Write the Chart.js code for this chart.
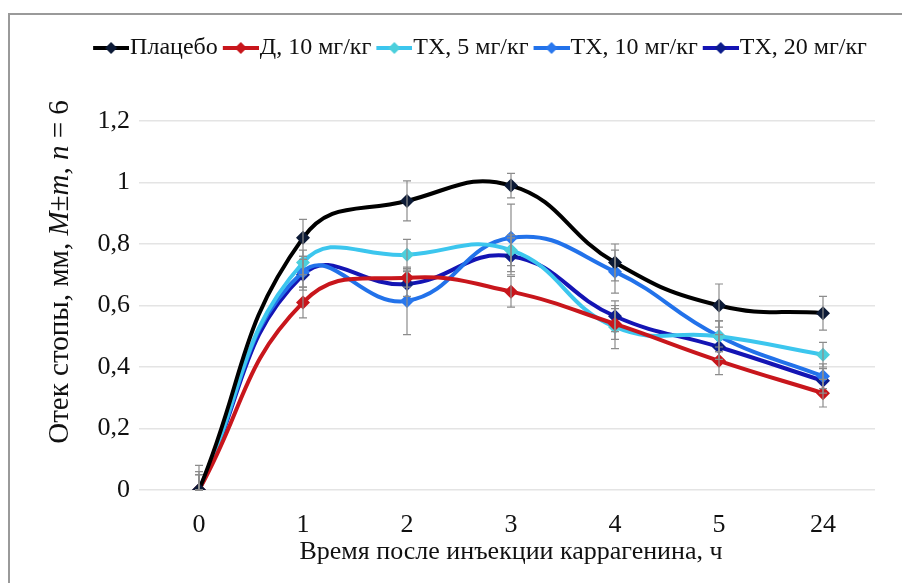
<!DOCTYPE html>
<html>
<head>
<meta charset="utf-8">
<script src="https://cdn.jsdelivr.net/npm/chart.js@4.4.1/dist/chart.umd.min.js"></script>
<style>
  html, body { margin: 0; padding: 0; background: #fff; }
  #wrap { position: absolute; left: 0; top: 0; width: 902px; height: 583px; }
</style>
</head>
<body>
<div id="wrap"><canvas id="chart" width="902" height="583"></canvas></div>
<script>
// Data
const hours = ['0', '1', '2', '3', '4', '5', '24'];
const yTicks = [0, 0.2, 0.4, 0.6, 0.8, 1, 1.2];

const placebo = [0, 0.82, 0.94, 0.99, 0.74, 0.60, 0.575];
const d10 = [0, 0.61, 0.69, 0.645, 0.54, 0.42, 0.315];
const tx5 = [0, 0.74, 0.765, 0.78, 0.53, 0.50, 0.44];
const tx10 = [0, 0.71, 0.615, 0.82, 0.71, 0.50, 0.37];
const tx20 = [0, 0.70, 0.67, 0.76, 0.565, 0.465, 0.355];

const placeboErr = [0.08, 0.06, 0.065, 0.04, 0.06, 0.07, 0.055];
const d10Err = [0.05, 0.05, 0.03, 0.05, 0.05, 0.045, 0.045];
const tx5Err = [0.05, 0.04, 0.05, 0.05, 0.07, 0.05, 0.04];
const tx10Err = [0.06, 0.05, 0.11, 0.11, 0.07, 0.05, 0.04];
const tx20Err = [0.05, 0.05, 0.04, 0.06, 0.05, 0.04, 0.04];

const font = 'Liberation Serif, Times New Roman, serif';
const legendSize = 24;
const iconBox = 24;

// legend icon: short line with a diamond, pushed right so it sits close to its text
const legendIcon = (lineColor, markColor) => {
    const w = iconBox + legendSize - 2;
    const c = document.createElement('canvas');
    c.width = w; c.height = 14;
    const g = c.getContext('2d');
    const x0 = w - 36;
    g.strokeStyle = lineColor;
    g.lineWidth = 4;
    g.beginPath(); g.moveTo(x0, 7); g.lineTo(w, 7); g.stroke();
    g.fillStyle = markColor;
    g.beginPath(); g.moveTo(x0 + 18, 1); g.lineTo(x0 + 24, 7); g.lineTo(x0 + 18, 13); g.lineTo(x0 + 12, 7); g.closePath(); g.fill();
    return c;
};

const makeSet = (label, data, err, lineColor, markColor) => ({
    label: label,
    data: data,
    err: err,
    borderColor: lineColor,
    backgroundColor: markColor,
    borderWidth: 4,
    tension: 0.45,
    pointStyle: 'rectRot',
    pointRadius: 7,
    pointBorderWidth: 0,
    pointBackgroundColor: markColor,
    legendIcon: legendIcon(lineColor, markColor)
});

const datasets = [
    makeSet('Плацебо', placebo, placeboErr, '#000000', '#0c1a36'),
    makeSet('Д, 10 мг/кг', d10, d10Err, '#c8161c', '#c8161c'),
    makeSet('ТХ, 5 мг/кг', tx5, tx5Err, '#3cc6ee', '#4ccfdc'),
    makeSet('ТХ, 10 мг/кг', tx10, tx10Err, '#2272ea', '#2a78ee'),
    makeSet('ТХ, 20 мг/кг', tx20, tx20Err, '#1414b4', '#0c1c8c')
];

// frame, error bars and y title
const extras = {
    id: 'extras',
    beforeInit(chart) {
        const fit = chart.legend.fit;
        chart.legend.fit = function () {
            fit.bind(chart.legend)();
            this.height += 51;
        };
    },
    afterLayout(chart) {
        chart.legend.left += 38;
        chart.legend.right += 38;
    },
    beforeDraw(chart) {
        const c = chart.ctx;
        c.save();
        c.strokeStyle = '#9a9a9a';
        c.lineWidth = 2;
        c.beginPath();
        c.moveTo(9, 583); c.lineTo(9, 14); c.lineTo(902, 14);
        c.stroke();
        c.restore();
    },
    afterDatasetsDraw(chart) {
        const c = chart.ctx;
        const y = chart.scales.y;
        c.save();
        c.strokeStyle = '#8c8c8c';
        c.lineWidth = 1.2;
        chart.data.datasets.forEach((ds, i) => {
            const meta = chart.getDatasetMeta(i);
            meta.data.forEach((pt, j) => {
                const e = ds.err[j];
                const top = y.getPixelForValue(ds.data[j] + e);
                const bot = y.getPixelForValue(Math.max(0, ds.data[j] - e));
                c.beginPath();
                c.moveTo(pt.x, top); c.lineTo(pt.x, bot);
                c.moveTo(pt.x - 4, top); c.lineTo(pt.x + 4, top);
                c.moveTo(pt.x - 4, bot); c.lineTo(pt.x + 4, bot);
                c.stroke();
            });
        });
        c.restore();
    },
    afterDraw(chart) {
        const c = chart.ctx;
        const parts = [
            ['Отек стопы, мм, ', ''], ['M', 'italic '], ['±', ''], ['m', 'italic '],
            [', ', ''], ['n', 'italic '], [' = 6', '']
        ];
        c.save();
        c.fillStyle = '#111';
        c.textBaseline = 'middle';
        let total = 0;
        parts.forEach(p => { c.font = p[1] + '29px ' + font; total += c.measureText(p[0]).width; });
        c.translate(60, 272);
        c.rotate(-Math.PI / 2);
        let x = -total / 2;
        parts.forEach(p => {
            c.font = p[1] + '29px ' + font;
            c.fillText(p[0], x, 0);
            x += c.measureText(p[0]).width;
        });
        c.restore();
    }
};

new Chart(document.getElementById('chart'), {
    type: 'line',
    data: { labels: hours, datasets: datasets },
    plugins: [extras],
    options: {
        responsive: false,
        animation: false,
        layout: { padding: { left: 10, right: 27, top: 30, bottom: 8 } },
        plugins: {
            tooltip: { enabled: false },
            legend: {
                position: 'top',
                labels: {
                    color: '#111',
                    font: { family: font, size: legendSize },
                    usePointStyle: true,
                    pointStyleWidth: iconBox,
                    padding: 6,
                    generateLabels: chart => chart.data.datasets.map((ds, i) => ({
                        text: ds.label,
                        pointStyle: ds.legendIcon,
                        fontColor: '#111',
                        datasetIndex: i,
                        hidden: false,
                        lineWidth: 0
                    }))
                }
            }
        },
        scales: {
            x: {
                offset: true,
                grid: { display: false },
                border: { display: false },
                ticks: { color: '#111', font: { family: font, size: 26 }, padding: 12 },
                title: {
                    display: true,
                    text: 'Время после инъекции каррагенина, ч',
                    color: '#111',
                    font: { family: font, size: 26 },
                    padding: { top: 2, bottom: 7 }
                },
                afterFit: s => { s.height = 85; }
            },
            y: {
                min: 0,
                max: 1.2,
                afterBuildTicks: s => { s.ticks = yTicks.map(v => ({ value: v })); },
                grid: { color: '#e4e4e4', lineWidth: 1.5 },
                border: { display: false },
                ticks: {
                    color: '#111',
                    font: { family: font, size: 26 },
                    padding: 9,
                    callback: v => String(v).replace('.', ',')
                },
                afterFit: s => { s.width = 137; }
            }
        }
    }
});
</script>
</body>
</html>
